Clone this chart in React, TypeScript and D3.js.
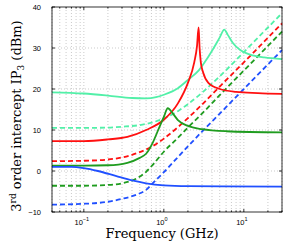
import React from 'react';
import * as d3 from 'd3';

// frequency (GHz) / IP3 (dBm) points
const cyanSolidF = [0.04, 0.1, 0.2, 0.4, 0.6, 0.8, 1.0, 1.5, 2, 2.75, 3.5, 4.2, 5, 5.7, 6.3, 7.3, 9, 12, 18, 30];
const cyanSolidV = [19.2, 18.9, 18.4, 17.8, 17.7, 18.0, 18.6, 20.2, 22.2, 24.6, 27.5, 30.0, 32.6, 34.5, 33.2, 31.2, 29.5, 28.4, 27.7, 27.3];

const redSolidF = [0.04, 0.1, 0.2, 0.35, 0.6, 1.0, 1.5, 2.0, 2.4, 2.6, 2.72, 2.8, 2.9, 3.1, 3.6, 5, 8, 15, 30];
const redSolidV = [7.3, 7.3, 7.7, 8.3, 10.0, 12.5, 16.5, 21.5, 26.5, 30.5, 35.0, 30.0, 26.5, 24.0, 21.5, 20.0, 19.3, 19.0, 18.8];

const greenSolidF = [0.04, 0.1, 0.2, 0.35, 0.5, 0.6, 0.73, 0.85, 1.0, 1.12, 1.3, 1.5, 2, 3, 6, 30];
const greenSolidV = [1.3, 1.3, 1.4, 2.0, 3.2, 4.2, 7.0, 10.0, 13.2, 15.3, 14.0, 12.4, 11.0, 10.2, 9.7, 9.4];

const blueSolidF = [0.04, 0.07, 0.1, 0.15, 0.25, 0.4, 0.6, 1, 2, 30];
const blueSolidV = [1.0, 1.0, 0.7, 0.0, -1.2, -2.3, -3.0, -3.5, -3.7, -3.8];

const cyanDashF = [0.04, 0.1, 0.2, 0.3, 0.5, 0.7, 1, 1.5, 2, 3, 5, 10, 20, 30];
const cyanDashV = [10.5, 10.5, 10.6, 10.8, 11.2, 11.8, 12.8, 14.6, 16.3, 19.1, 23.1, 29.0, 35.0, 38.5];

const redDashF = [0.04, 0.1, 0.2, 0.3, 0.5, 0.7, 1, 1.5, 2, 3, 5, 10, 20, 30];
const redDashV = [2.4, 2.5, 2.8, 3.3, 4.6, 5.9, 7.9, 10.7, 12.9, 16.2, 20.6, 26.5, 32.5, 36.0];

const greenDashF = [0.04, 0.1, 0.2, 0.3, 0.45, 0.6, 0.75, 1, 1.5, 2, 3, 5, 10, 20, 30];
const greenDashV = [-3.6, -3.6, -3.4, -3.0, -1.9, -0.2, 1.8, 4.7, 8.1, 10.6, 14.0, 18.5, 24.5, 30.5, 34.0];

const blueDashF = [0.04, 0.1, 0.2, 0.3, 0.45, 0.6, 0.75, 1, 1.5, 2, 3, 5, 10, 20, 30];
const blueDashV = [-8.2, -8.0, -7.5, -6.8, -5.8, -4.6, -2.7, -0.3, 3.4, 6.0, 9.6, 14.0, 20.0, 26.0, 29.5];

const yTicks = [-10, 0, 10, 20, 30, 40];
const xMajor = [0.1, 1, 10];
const xMajorExp = ['\u22121', '0', '1'];

const series = [
  { f: cyanDashF, v: cyanDashV, color: '#52f0a8', dash: '5,3' },
  { f: redDashF, v: redDashV, color: '#ff1010', dash: '5,3' },
  { f: greenDashF, v: greenDashV, color: '#1f9c1f', dash: '5,3' },
  { f: blueDashF, v: blueDashV, color: '#2050ff', dash: '5,3' },
  { f: cyanSolidF, v: cyanSolidV, color: '#52f0a8', dash: null },
  { f: redSolidF, v: redSolidV, color: '#ff1010', dash: null },
  { f: greenSolidF, v: greenSolidV, color: '#1f9c1f', dash: null },
  { f: blueSolidF, v: blueSolidV, color: '#2050ff', dash: null },
];

const W = 292;
const H = 245;
const margin = { top: 7, right: 10, bottom: 33, left: 52 };

export default function App() {
  const x = d3.scaleLog().domain([0.04, 30]).range([margin.left, W - margin.right]);
  const y = d3.scaleLinear().domain([-10, 40]).range([H - margin.bottom, margin.top]);
  const x0 = margin.left, x1 = W - margin.right, y0 = H - margin.bottom, y1 = margin.top;

  const minor = x.ticks().filter(t => !xMajor.some(m => Math.abs(m - t) < 1e-9));

  const line = d3.line<[number, number]>()
    .x(d => x(d[0]))
    .y(d => y(d[1]))
    .curve(d3.curveMonotoneX);

  const tickFont = { fontFamily: "'Liberation Sans', Arial, sans-serif", fontSize: 7.5 };
  const labelFont = { fontFamily: "'DejaVu Serif', serif", fontSize: 13 };

  return (
    <svg width={W} height={H} style={{ position: 'absolute', left: 0, top: 0, background: '#fff' }}>
      {/* grid */}
      <g stroke="#b4b4b4" strokeWidth={0.7} strokeDasharray="1,2">
        {x.ticks().map((t, i) => (
          <line key={'gx' + i} x1={x(t)} x2={x(t)} y1={y0} y2={y1} />
        ))}
        {yTicks.slice(1, -1).map(t => (
          <line key={'gy' + t} x1={x0} x2={x1} y1={y(t)} y2={y(t)} />
        ))}
      </g>

      {/* curves */}
      <g fill="none" strokeWidth={1.8}>
        {series.map((s, i) => (
          <path
            key={i}
            d={line(s.f.map((f, j) => [f, s.v[j]] as [number, number])) || ''}
            stroke={s.color}
            strokeDasharray={s.dash || undefined}
          />
        ))}
      </g>

      {/* box and ticks */}
      <g stroke="#000" strokeWidth={0.8} fill="none">
        <rect x={x0} y={y1} width={x1 - x0} height={y0 - y1} />
        {xMajor.map(t => (
          <g key={'mx' + t}>
            <line x1={x(t)} x2={x(t)} y1={y0} y2={y0 - 3} />
            <line x1={x(t)} x2={x(t)} y1={y1} y2={y1 + 3} />
          </g>
        ))}
        {minor.map((t, i) => (
          <g key={'mn' + i}>
            <line x1={x(t)} x2={x(t)} y1={y0} y2={y0 - 1.6} />
            <line x1={x(t)} x2={x(t)} y1={y1} y2={y1 + 1.6} />
          </g>
        ))}
        {yTicks.map(t => (
          <g key={'my' + t}>
            <line x1={x0} x2={x0 + 3} y1={y(t)} y2={y(t)} />
            <line x1={x1} x2={x1 - 3} y1={y(t)} y2={y(t)} />
          </g>
        ))}
      </g>

      {/* tick labels */}
      <g {...tickFont} fill="#000">
        {yTicks.map(t => (
          <text key={'ly' + t} x={x0 - 11} y={y(t)} dy="0.35em" textAnchor="end">
            {t < 0 ? '\u2212' + Math.abs(t) : t}
          </text>
        ))}
        {xMajor.map((t, i) => (
          <text key={'lx' + t} x={x(t) - 2} y={y0 + 13} textAnchor="middle">
            10<tspan fontSize={5.5} dy={-4}>{xMajorExp[i]}</tspan>
          </text>
        ))}
      </g>

      {/* axis titles */}
      <text {...labelFont} x={162} y={H - 7} textAnchor="middle">Frequency (GHz)</text>
      <text {...labelFont} transform={`translate(21,116) rotate(-90)`} textAnchor="middle">
        3<tspan fontSize={9} dy={-5}>rd</tspan>
        <tspan dy={5}> order intercept IP</tspan>
        <tspan fontSize={9} dy={3}>3</tspan>
        <tspan dy={-3}> (dBm)</tspan>
      </text>
    </svg>
  );
}
